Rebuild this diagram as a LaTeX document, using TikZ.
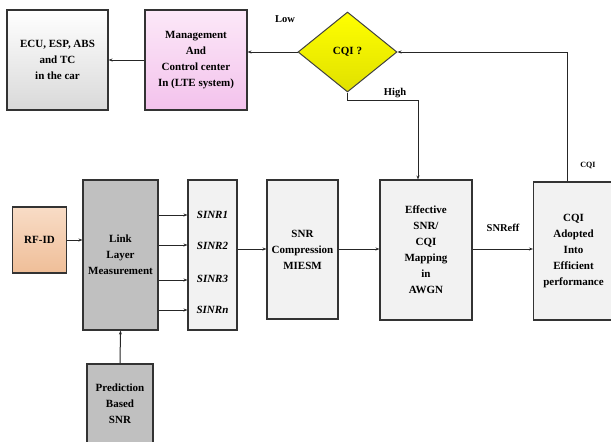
\documentclass[tikz,border=0pt]{standalone}
\usepackage{fontspec}
\setmainfont{Liberation Serif}
\usetikzlibrary{arrows.meta,shapes.geometric}
\definecolor{lgray}{HTML}{F2F2F2}
\definecolor{mgray}{HTML}{C0C0C0}
\definecolor{pinkt}{HTML}{FCE8F8}
\definecolor{pinkb}{HTML}{F3C2EC}
\definecolor{orat}{HTML}{F8DCC6}
\definecolor{orab}{HTML}{EFBE98}
\tikzset{
  blk/.style={draw=black!80, line width=1.1pt, align=center, font=\fontsize{11}{16}\selectfont\bfseries, inner sep=0pt},
  conn/.style={draw=black!85, line width=1pt, -{Stealth[length=4pt,width=3pt]}},
  line/.style={draw=black!85, line width=1pt},
  lbl/.style={font=\fontsize{10.5}{12}\selectfont\bfseries, inner sep=0pt},
}
\begin{document}
\begin{tikzpicture}[x=1pt,y=-1pt]
\useasboundingbox (0,0) rectangle (611,442);
\clip (0,0) rectangle (611,442);
% top row
\node[blk, minimum width=101pt, minimum height=100pt, top color=white, bottom color=black!15] (ecu) at (57.5,60) {ECU, ESP, ABS\\and TC\\in the car};
\node[blk, minimum width=102pt, minimum height=100pt, top color=pinkt, bottom color=pinkb] (mgmt) at (196,60) {Management\\And\\Control center\\In (LTE system)};
\node[diamond, draw=black!75, line width=1pt, minimum width=99pt, minimum height=80pt, aspect=1.25, inner sep=0pt, top color=yellow, bottom color=yellow!88!black, font=\fontsize{11}{13}\selectfont\bfseries] (cqi) at (347.5,52) {CQI ?};
% middle row
\node[blk, minimum width=54pt, minimum height=66pt, top color=orat, bottom color=orab] (rf) at (39.5,240) {RF-ID};
\node[blk, minimum width=75pt, minimum height=150pt, fill=mgray] (link) at (120.5,255) {Link\\Layer\\Measurement};
\node[blk, minimum width=49pt, minimum height=150pt, fill=lgray] (sinr) at (212.5,255) {};
\node[blk, minimum width=71pt, minimum height=139pt, fill=lgray] (snr) at (302.5,249.5) {SNR\\Compression\\MIESM};
\node[blk, minimum width=92pt, minimum height=140pt, fill=lgray] (eff) at (426,250) {Effective\\SNR/\\CQI\\Mapping\\in\\AWGN};
\node[blk, minimum width=80pt, minimum height=138pt, fill=lgray] (cqa) at (573.5,251) {CQI\\Adopted\\Into\\Efficient\\performance};
\node[blk, minimum width=66pt, minimum height=100pt, fill=mgray] (pred) at (120,414) {};
\node[font=\fontsize{11}{16}\selectfont\bfseries, align=center] (predt) at (120,404) {Prediction\\Based\\SNR};
% SINR labels
\foreach \n/\t/\yy in {s1/SINR1/215, s2/SINR2/246, s3/SINR3/279, sn/SINRn/310}{
  \node[font=\fontsize{11}{13}\selectfont\bfseries\itshape] (\n) at (212.5,\yy) {\t};
}
% arrows
\draw[conn] (mgmt.west |- 0,60) -- (ecu.east |- 0,60);
\draw[conn] (cqi.west) -- (mgmt.east |- cqi.west);
\coordinate (hb) at (347.5,100);
\coordinate (hr) at (418,100);
\draw[line] (cqi.south) -- (hb) -- (hr);
\draw[conn] (hr) -- (hr |- eff.north);
\coordinate (ft) at (567,52);
\draw[line] (cqa.north -| ft) -- (ft);
\draw[conn] (ft) -- (cqi.east);
\draw[conn] (rf.east) -- (link.west |- rf.east);
\foreach \n/\yy in {s1/215, s2/245, s3/280, sn/310}{
  \draw[conn] (link.east |- 0,\yy) -- (sinr.west |- 0,\yy);
}
\draw[conn] (sinr.east |- 0,249) -- (snr.west |- 0,249);
\draw[conn] (snr.east |- 0,249) -- (eff.west |- 0,249);
\draw[conn] (eff.east |- 0,249) -- (cqa.west |- 0,249);
\draw[conn] (pred.north) -- (link.south);
% labels
\node[lbl] (low) at (285,19) {Low};
\node[lbl] (high) at (395,93) {High};
\node[lbl] (snreff) at (503,228) {SNReff};
\node[font=\fontsize{8}{10}\selectfont\bfseries, inner sep=0pt] (cqil) at (588,165) {CQI};
\end{tikzpicture}
\end{document}
